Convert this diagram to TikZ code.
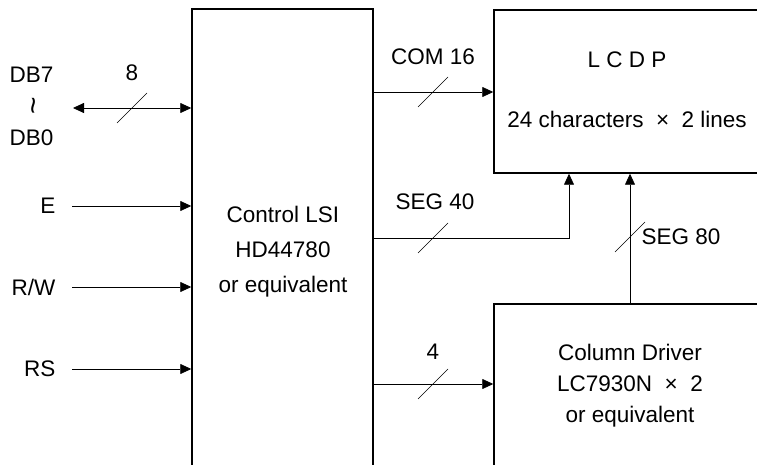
\documentclass[tikz,border=0pt]{standalone}
\usepackage{fontspec}
\setmainfont{Liberation Sans}
\usetikzlibrary{arrows.meta,positioning}

\begin{document}
\begin{tikzpicture}[x=1pt, y=-1pt, >={Triangle[length=11pt,width=10pt]},
    every node/.style={font=\fontsize{22.5}{27}\selectfont},
    blk/.style={draw, line width=1.5pt, inner sep=0pt},
    sig/.style={line width=0.8pt},
    bus/.pic={\draw[line width=0.6pt] (-15,15) -- (15,-15);}]
\useasboundingbox (0,0) rectangle (757,465);
\clip (0,0) rectangle (757,465);
% blocks (open towards the page edges)
\node[blk, minimum width=181pt, minimum height=520pt] (lsi) at (282.5,269) {};
\node[blk, minimum width=320pt, minimum height=163pt] (lcd) at (654,91.5) {};
\node[blk, minimum width=320pt, minimum height=240pt] (drv) at (654,424) {};
\node[align=center, font=\fontsize{22.5}{35}\selectfont] (lsitxt) at (283,252) {Control LSI\\HD44780\\or equivalent};
\node[align=center, font=\fontsize{22.5}{60}\selectfont] (lcdtxt) at (627,90) {L C D P\\24 characters \ × \ 2 lines};
\node[align=center, font=\fontsize{22.5}{31}\selectfont] (drvtxt) at (630,386) {Column Driver\\LC7930N \ × \ 2\\or equivalent};
% data bus
\node[anchor=east] (db7) at (57,75) {DB7};
\node[rotate=90, font=\fontsize{30}{30}\selectfont] (tl) at (38,106) {\textasciitilde};
\node[anchor=east] (db0) at (57,138) {DB0};
\coordinate (db) at (73,108);
\draw[sig, <->] (db) -- (db -| lsi.west);
\pic at (132,108) {bus};
\node (n8) at (132,73) {8};
% control inputs
\foreach \nm/\txt/\yy in {e/E/206, rw/R\slash W/287, rs/RS/369} {
    \node[anchor=east] (\nm) at (59,\yy) {\txt};
    \coordinate (\nm in) at (72,\yy);
    \draw[sig, ->] (\nm in) -- (\nm in -| lsi.west);
}
% outputs
\coordinate (com) at (433,92);
\draw[sig, ->] (lsi.east |- com) -- (lcd.west |- com);
\pic at (com) {bus};
\node (comlbl) at (433,57) {COM 16};
\coordinate (s40) at (569,238);
\draw[sig, ->] (lsi.east |- s40) -- (s40) -- (s40 |- lcd.south);
\pic at (433,238) {bus};
\node (s40lbl) at (435,202) {SEG 40};
\coordinate (s80) at (630,237);
\draw[sig, ->] (s80 |- drv.north) -- (s80 |- lcd.south);
\pic at (s80) {bus};
\node[anchor=west] (s80lbl) at (638,237) {SEG 80};
\coordinate (c4) at (433,384);
\draw[sig, ->] (lsi.east |- c4) -- (drv.west |- c4);
\pic at (c4) {bus};
\node (n4) at (433,352) {4};
\end{tikzpicture}
\end{document}
